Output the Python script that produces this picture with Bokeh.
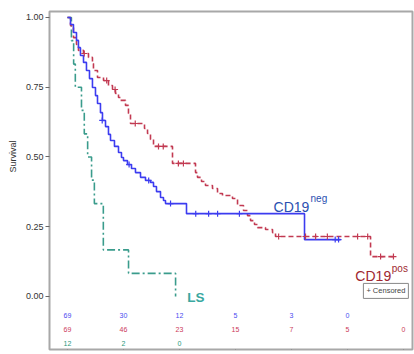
from bokeh.plotting import figure
from bokeh.models import Label, FixedTicker, Title, Arrow
from bokeh.core.properties import value
from bokeh.embed import file_html
from bokeh.resources import INLINE

# ---- data ----
# CD19neg (blue, solid)
neg_time = [0, .054, .107, .161, .196, .232, .286, .339, .393, .446, .5, .536, .589, .625, .679,
            .732, .768, .839, .911, .964, 1.0, 1.071, 1.143, 1.214, 1.304, 1.393, 1.482, 1.536,
            1.589, 1.661, 1.714, 1.75, 2.125, 4.232, 4.875]
neg_surv = [1.0, .975, .946, .918, .892, .864, .839, .810, .781, .749, .720, .692, .659, .631, .609,
            .581, .559, .538, .516, .498, .487, .473, .459, .444, .427, .416, .409, .394,
            .376, .355, .344, .333, .297, .204, .204]
neg_cens_time = [0.62, 1.1, 1.45, 1.84, 2.29, 2.52, 2.68, 3.07, 4.78, 4.84]
neg_cens_surv = [.631, .473, .416, .333, .297, .297, .297, .297, .204, .204]

# CD19pos (red, dashed)
pos_time = [0, .054, .107, .161, .196, .286, .375, .446, .464, .536, .643, .732, .804, .857, .911,
            .946, 1.036, 1.089, 1.125, 1.375, 1.429, 1.482, 1.536, 1.875, 2.286, 2.321, 2.393,
            2.464, 2.589, 2.679, 2.768, 2.946, 3.036, 3.143, 3.214, 3.268, 3.339, 3.393, 3.536,
            3.661, 3.714, 5.411, 5.857]
pos_surv = [1.0, .971, .928, .903, .882, .871, .857, .835, .810, .785, .774, .756, .742, .728, .713,
            .703, .685, .656, .620, .602, .584, .563, .538, .477, .444, .427, .412,
            .398, .387, .369, .362, .351, .326, .308, .290, .272, .258, .247, .240,
            .229, .215, .143, .143]
pos_cens_time = [0.3, 0.7, 0.85, 1.21, 1.625, 1.71, 1.98, 2.07, 3.77, 4.25, 4.43, 4.64, 5.18, 5.36, 5.59, 5.82]
pos_cens_surv = [.871, .774, .742, .620, .538, .538, .477, .477, .215, .215, .215, .215, .215, .215, .143, .143]

# LS / linswitch (teal, dash-dot)
ls_time = [0, .07, .11, .14, .25, .30, .36, .43, .48, .64, 1.09, 1.93]
ls_surv = [1.0, .917, .833, .75, .667, .583, .5, .417, .333, .167, .083, 0.0]

# numbers at risk
risk_times = [0, 1, 2, 3, 4, 5, 6]
risk_groups = ["cd19neg", "cd19pos", "linswitch"]
risk_neg = [69, 30, 12, 5, 3, 0]
risk_pos = [69, 46, 23, 15, 7, 5, 0]
risk_ls = [12, 2, 0]

y_ticks = [0.0, 0.25, 0.5, 0.75, 1.0]

# ---- styling ----
BLUE = "#3c3cf0"
RED = "#c23a52"
TEAL = "#3a9c8c"
FONT = "Liberation Sans"
Y0, Y1 = -0.19, 1.0215

p = figure(width=414, height=354, x_range=(-0.321, 6.16), y_range=(Y0, Y1),
           output_backend="svg", toolbar_location=None, x_axis_location=None,
           min_border_left=49, min_border_right=2, min_border_top=11, min_border_bottom=5)
p.background_fill_color = "white"
p.border_fill_color = "white"
p.outline_line_color = "#a8a8a8"
p.outline_line_width = 2
p.xgrid.visible = False
p.ygrid.visible = False

# y axis
p.yaxis.ticker = FixedTicker(ticks=y_ticks)
p.yaxis.major_label_overrides = {t: f"{t:.2f}" for t in y_ticks}
p.yaxis.major_label_text_font = FONT
p.yaxis.major_label_text_font_size = "9px"
p.yaxis.major_label_text_color = "#333333"
p.yaxis.major_tick_out = 4
p.yaxis.major_tick_in = 0
p.yaxis.minor_tick_line_color = None
p.yaxis.axis_line_color = "#a8a8a8"
p.yaxis.major_tick_line_color = "#666666"
p.yaxis.major_label_standoff = 2

# y axis title, centred on the 0..1 survival range
p.add_layout(Title(text="Survival", align="left", offset=177, text_font=FONT,
                   text_font_size="9px", text_font_style="normal",
                   text_color="#333333"), "left")

# x tick marks below the frame (their labels fall outside the picture)
for t in risk_times:
    p.add_layout(Arrow(x_start=t, y_start=Y0, x_end=t, y_end=Y0 - 0.018, start=None, end=None,
                       line_color="#555555", line_width=1))

# curves
p.step(ls_time, ls_surv, mode="after", line_color=TEAL, line_width=1.6, line_dash="8 3 2 3")
p.step(pos_time, pos_surv, mode="after", line_color=RED, line_width=1.6, line_dash="5 3")
p.step(neg_time, neg_surv, mode="after", line_color=BLUE, line_width=1.6)

p.scatter(pos_cens_time, pos_cens_surv, marker="cross", size=6, line_color=RED, line_width=1.2)
p.scatter(neg_cens_time, neg_cens_surv, marker="cross", size=6, line_color=BLUE, line_width=1.2)

# numbers at risk
row_y = [-0.068, -0.118, -0.168]
row_vals = [risk_neg, risk_pos, risk_ls]
row_cols = ["#4a4af0", "#cc3a5a", "#2a9a7c"]
label_cols = ["#3a3ad8", "#c8304e", "#2a9070"]
for name, vals, yy, col, lcol in zip(risk_groups, row_vals, row_y, row_cols, label_cols):
    p.text(x=risk_times[:len(vals)], y=[yy] * len(vals), text=[str(v) for v in vals],
           text_font=value(FONT), text_font_size="7px", text_color=col,
           text_align="center", text_baseline="middle")
    p.add_layout(Label(x=-0.41, y=yy, text=name, text_font=FONT, text_font_size="9.5px",
                       text_color=lcol, text_align="right", text_baseline="middle"))

# curve labels
p.add_layout(Label(x=3.68, y=0.319, text="CD19", text_font=FONT, text_font_size="14px",
                   text_color="#2a4fb0", text_baseline="alphabetic"))
p.add_layout(Label(x=4.34, y=0.350, text="neg", text_font=FONT, text_font_size="10px",
                   text_color="#2a4fb0", text_baseline="alphabetic"))
p.add_layout(Label(x=5.14, y=0.072, text="CD19", text_font=FONT, text_font_size="14px",
                   text_color="#a02830", text_baseline="alphabetic"))
p.add_layout(Label(x=5.79, y=0.100, text="pos", text_font=FONT, text_font_size="10px",
                   text_color="#a02830", text_baseline="alphabetic"))
p.add_layout(Label(x=2.14, y=-0.004, text="LS", text_font=FONT, text_font_size="13.5px",
                   text_font_style="bold", text_color="#3aa8a0", text_baseline="alphabetic"))

# censored legend box
p.add_layout(Label(x=5.685, y=0.02, text="+ Censored", text_font=FONT, text_font_size="7.5px",
                   text_color="#444444", text_align="center", text_baseline="middle",
                   border_line_color="#888888", border_line_width=1,
                   background_fill_color="white", padding=3))

open("out.html", "w").write(file_html(p, INLINE))
